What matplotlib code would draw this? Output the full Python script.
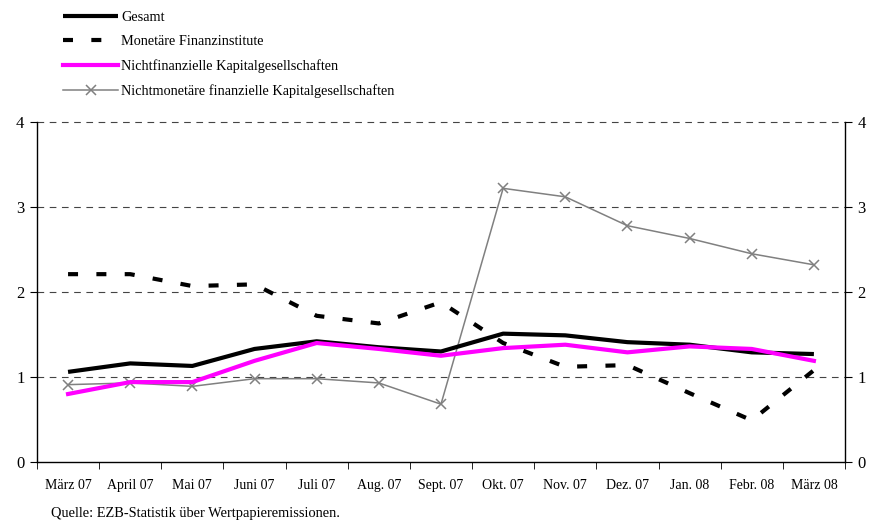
import matplotlib
matplotlib.use("Agg")
import matplotlib.pyplot as plt
import numpy as np
from matplotlib.ticker import FixedLocator

plt.rcParams['font.family'] = ['Liberation Serif', 'DejaVu Serif']

months = ["März 07", "April 07", "Mai 07", "Juni 07", "Juli 07", "Aug. 07", "Sept. 07",
          "Okt. 07", "Nov. 07", "Dez. 07", "Jan. 08", "Febr. 08", "März 08"]
gesamt = [1.06, 1.16, 1.13, 1.33, 1.42, 1.35, 1.30, 1.51, 1.49, 1.41, 1.38, 1.29, 1.27]
mfi = [2.21, 2.21, 2.07, 2.09, 1.72, 1.63, 1.88, 1.40, 1.12, 1.14, 0.81, 0.49, 1.08]
nfk = [0.80, 0.94, 0.94, 1.19, 1.40, 1.33, 1.25, 1.34, 1.38, 1.29, 1.36, 1.33, 1.19]
nmfk = [0.91, 0.93, 0.89, 0.98, 0.98, 0.93, 0.68, 3.22, 3.12, 2.78, 2.63, 2.45, 2.32]
labels = ["Gesamt", "Monetäre Finanzinstitute", "Nichtfinanzielle Kapitalgesellschaften",
          "Nichtmonetäre finanzielle Kapitalgesellschaften"]
yticks = [0, 1, 2, 3, 4]
source = "Quelle: EZB-Statistik über Wertpapieremissionen."

fig = plt.figure(figsize=(8.74, 5.26), dpi=100)
ax = fig.add_axes([0.0423, 0.1217, 0.9245, 0.6463])
x = np.arange(len(months))

ax.set_ylim(0, 4)
ax.set_xlim(-0.5, len(months) - 0.5)
for yv in yticks[1:]:
    ax.axhline(yv, color="#444444", lw=0.8, ls=(0, (6, 5)), zorder=1, clip_on=False)

l1, = ax.plot(x, gesamt, color="black", lw=3.0, solid_capstyle="butt", zorder=4)
l2, = ax.plot(x, mfi, color="black", lw=3.0, ls=(0, (2.4, 4.4)), zorder=3)
l3, = ax.plot(x, nfk, color="#ff00ff", lw=3.0, zorder=5)
l4, = ax.plot(x, nmfk, color="#808080", lw=1.1, marker="x", ms=7.5, mew=1.1, zorder=2)

ax.spines["top"].set_visible(False)
for s in ["left", "right", "bottom"]:
    ax.spines[s].set_linewidth(1.0)

ax.set_yticks(yticks)
ax.tick_params(axis="y", which="both", direction="out", length=5, labelsize=12,
               left=True, right=True, labelleft=True, labelright=True, pad=4)
ax.xaxis.set_major_locator(FixedLocator(x))
ax.set_xticklabels(months)
ax.xaxis.set_minor_locator(FixedLocator(np.arange(-0.5, len(months), 1.0)))
ax.tick_params(axis="x", which="major", length=0, labelsize=10, pad=12)
ax.tick_params(axis="x", which="minor", length=5, direction="out")

fig.legend([l1, l2, l3, l4], labels, loc="upper left", bbox_to_anchor=(0.0657, 0.99),
           frameon=False, fontsize=10.3, handlelength=3.84, handletextpad=0.2,
           labelspacing=0.78, borderaxespad=0)

fig.text(0.0585, 0.017, source, fontsize=10.4, ha="left", va="baseline")

fig.savefig("out.png", dpi=100)
